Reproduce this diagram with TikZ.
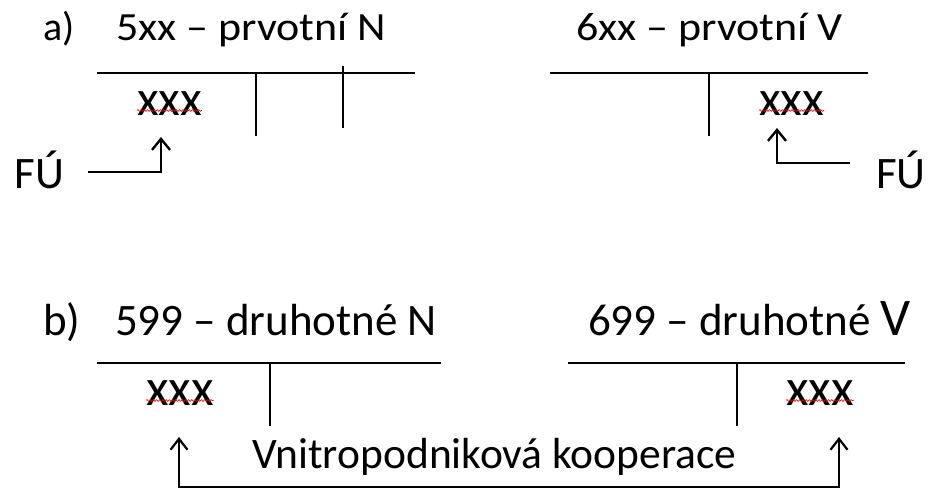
\documentclass[tikz,border=0pt]{standalone}
\usepackage{fontspec}
\usepackage{graphicx}
\setmainfont{Carlito}
\usetikzlibrary{arrows.meta,decorations.pathmorphing}
\newcommand{\fsA}{\fontsize{40}{44}\selectfont}
\newcommand{\fsB}{\fontsize{45}{50}\selectfont}
\newcommand{\fsX}{\fontsize{50}{54}\selectfont}
\newcommand{\fsY}{\fontsize{52}{56}\selectfont}
\newcommand{\fsC}{\fontsize{43.5}{48}\selectfont}
\begin{document}
\begin{tikzpicture}[x=1pt,y=-1pt,
  txt/.style={inner sep=0pt,outer sep=0pt,anchor=base west},
  tline/.style={line width=2.4pt},
  arr/.style={line width=2.2pt,-{Straight Barb[length=11pt,width=18pt,line width=2.4pt]}},
  arrb/.style={line width=1.8pt,{Straight Barb[length=11pt,width=17pt,line width=2.2pt]}-{Straight Barb[length=11pt,width=17pt,line width=2.2pt]}},
  squig/.style={red,line width=0.6pt,decorate,decoration={snake,amplitude=0.9pt,segment length=3.2pt}}]
\useasboundingbox[fill=white] (0,0) rectangle (930,490);
% ---------- a) ----------
\node[txt] (la) at (43,40) {\fsA a)};
\node[txt] (hA1) at (116,40) {\fsA\scalebox{1.1}[1]{5xx – prvotní N}};
\node[txt] (hA2) at (576,40) {\fsA\scalebox{1.1}[1]{6xx – prvotní V}};
% left T account
\coordinate (a1l) at (97,73); \coordinate (a1r) at (415,73);
\coordinate (a1v) at (256,73); \coordinate (a1vb) at (256,136);
\coordinate (a1w) at (343,66); \coordinate (a1wb) at (343,128);
\draw[tline] (a1l) -- (a1r);
\draw[tline] (a1v) -- (a1vb);
\draw[tline] (a1w) -- (a1wb);
\node[txt] (xA1) at (137,115) {\fsX xxx};
\draw[squig] ([yshift=4.5pt]xA1.base west) -- ([yshift=4.5pt]xA1.base east);
\node[txt] (fuL) at (15,188) {\fsB FÚ};
\coordinate (fA1s) at (88,172); \coordinate (fA1t) at (161,137);
\draw[arr] (fA1s) -| (fA1t);
% right T account
\coordinate (a2l) at (550,73); \coordinate (a2r) at (868,73);
\coordinate (a2v) at (709,73); \coordinate (a2vb) at (709,136);
\draw[tline] (a2l) -- (a2r);
\draw[tline] (a2v) -- (a2vb);
\node[txt] (xA2) at (759,115) {\fsX xxx};
\draw[squig] ([yshift=4.5pt]xA2.base west) -- ([yshift=4.5pt]xA2.base east);
\node[txt] (fuR) at (876,188) {\fsB FÚ};
\coordinate (fA2s) at (850,163); \coordinate (fA2t) at (777,128);
\draw[arr] (fA2s) -| (fA2t);
% ---------- b) ----------
\node[txt] (lb) at (43,335) {\fsB b)};
\node[txt] (hB1) at (115,335) {\fsB 599 – druhotné N};
\node[txt] (hB2) at (588,335) {\fsB 699 – druhotné \fontsize{53}{58}\selectfont V};
\coordinate (b1l) at (97,363); \coordinate (b1r) at (441,363);
\coordinate (b1v) at (270,363); \coordinate (b1vb) at (270,426);
\draw[tline] (b1l) -- (b1r);
\draw[line width=2pt] (b1v) -- (b1vb);
\node[txt] (xB1) at (146,405) {\fsY xxx};
\draw[squig] ([yshift=4.5pt]xB1.base west) -- ([yshift=4.5pt]xB1.base east);
\coordinate (b2l) at (568,363); \coordinate (b2r) at (905,363);
\coordinate (b2v) at (737,363); \coordinate (b2vb) at (737,426);
\draw[tline] (b2l) -- (b2r);
\draw[line width=2pt] (b2v) -- (b2vb);
\node[txt] (xB2) at (786,405) {\fsY xxx};
\draw[squig] ([yshift=4.5pt]xB2.base west) -- ([yshift=4.5pt]xB2.base east);
\node[txt] (vk) at (252,468) {\fsC Vnitropodniková kooperace};
\coordinate (kL) at (179,437); \coordinate (kB) at (509,487); \coordinate (kR) at (839,437);
\draw[arrb] (kL) |- (kB) -| (kR);
\end{tikzpicture}
\end{document}
